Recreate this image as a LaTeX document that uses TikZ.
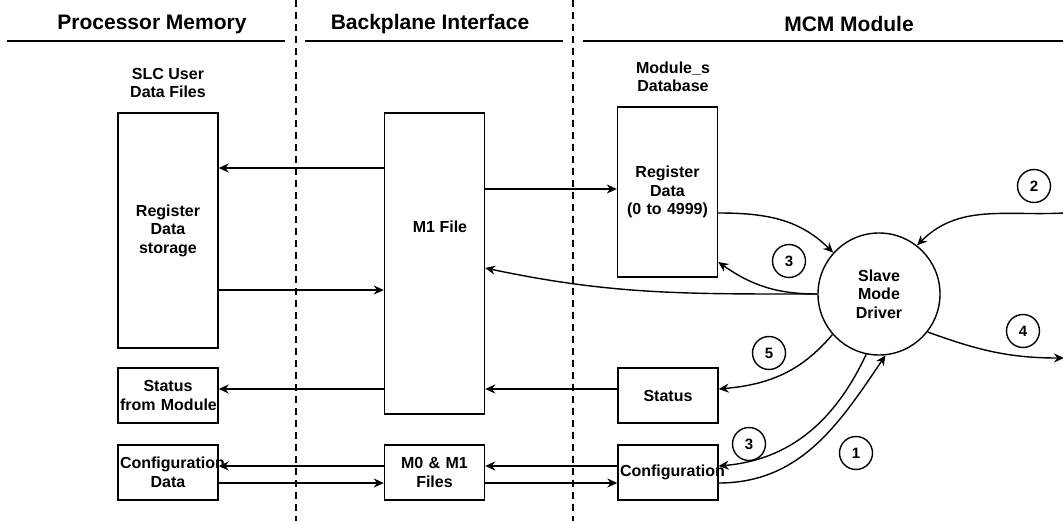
\documentclass[tikz,border=0pt]{standalone}
\usepackage{fontspec}
\setmainfont{Liberation Sans}
\usetikzlibrary{arrows.meta}

\newcommand\lblfont{\fontsize{16}{18.5}\selectfont\bfseries}
\newcommand\headfont{\fontsize{21}{24}\selectfont\bfseries}
\newcommand\numfont{\fontsize{15}{18}\selectfont\bfseries}

\begin{document}
\hyphenpenalty=10000
\begin{tikzpicture}[x=1pt, y=-1pt, line width=1.4pt,
    >={Stealth[length=10pt, width=9pt]},
    box/.style={draw, rectangle, inner sep=2pt, text width=96pt, align=center, font=\lblfont},
    lbl/.style={align=center, font=\lblfont, inner sep=0pt},
    head/.style={font=\headfont, inner sep=0pt},
    num/.style={draw, circle, minimum size=33pt, inner sep=0pt, font=\numfont},
    sep/.style={dash pattern=on 7pt off 5pt, line width=1.5pt},
    rule/.style={line width=1.8pt}]
  \useasboundingbox (0,0) rectangle (1063,521);

  % Intestazioni
  \draw[rule] (7,41) -- (285,41);
  \draw[rule] (305,41) -- (563,41);
  \draw[rule] (583,41) -- (1063,41);
  \node[head] (hpm) at (152,24) {Processor Memory};
  \node[head] (hbi) at (430,24) {Backplane Interface};
  \node[head] (hmcm) at (849,24) {MCM Module};
  \draw[sep] (296,0) -- (296,521);
  \draw[sep] (573,0) -- (573,521);

  % Righe
  \coordinate (y1) at (0,168);
  \coordinate (y2) at (0,189);
  \coordinate (y3) at (0,213);
  \coordinate (y4) at (0,290);
  \coordinate (y5) at (0,389);
  \coordinate (y6) at (0,466);
  \coordinate (y7) at (0,483);
  \coordinate (y8) at (0,268);
  \coordinate (y9) at (0,262);
  \coordinate (in2) at (1064,213);
  \coordinate (out4) at (1064,358);

  % Nodi
  \node[lbl] (slct) at (168,83) {SLC User\\Data Files};
  \node[box, minimum height=235pt] (slc) at (168,230.5) {Register\\Data\\storage};
  \node[box, minimum height=55pt] (stm) at (168,395.5) {Status\\\mbox{from Module}};
  \node[box, minimum height=55pt] (cfd) at (168,472.5) {Configuration\\Data};

  \node[box, minimum height=301pt] (m1) at (434.5,263.5) {};
  \node[lbl] (m1t) at (440,227) {M1 File};
  \node[box, minimum height=55pt] (m01) at (434.5,472.5) {M0 \& M1\\Files};

  \node[lbl] (dbt) at (673,77) {Module\_s\\Database};
  \node[box, minimum height=170pt] (reg) at (667.5,192) {Register\\Data\\(0 to 4999)};
  \node[box, minimum height=55pt] (sta) at (668,395.5) {Status};
  \node[box, minimum height=55pt] (cfg) at (668,472.5) {Configuration};
  \node[draw, circle, minimum size=122pt, inner sep=0pt, align=center, font=\lblfont] (drv) at (879,294) {Slave\\Mode\\Driver};

  \node[num] (n1) at (856,453) {1};
  \node[num] (n2) at (1034,186) {2};
  \node[num] (n3a) at (789,261) {3};
  \node[num] (n3b) at (749,444) {3};
  \node[num] (n4) at (1023,331) {4};
  \node[num] (n5) at (769,353) {5};

  % Archi
  \draw[->] (m1.west |- y1) -- (slc.east |- y1);
  \draw[->] (slc.east |- y4) -- (m1.west |- y4);
  \draw[->] (m1.west |- y5) -- (stm.east |- y5);
  \draw[->] (m01.west |- y6) -- (cfd.east |- y6);
  \draw[->] (cfd.east |- y7) -- (m01.west |- y7);

  \draw[->] (m1.east |- y2) -- (reg.west |- y2);
  \draw[->] (sta.west |- y5) -- (m1.east |- y5);
  \draw[->] (cfg.west |- y6) -- (m01.east |- y6);
  \draw[->] (m01.east |- y7) -- (cfg.west |- y7);

  \draw[->] (reg.east |- y3) to[out=0, in=135] (drv.138);
  \draw[->] (in2) to[out=183, in=45] (drv.52);
  \draw[->] (drv.west) to[out=180, in=-12] (m1.east |- y8);
  \draw[->] (drv.west) to[out=180, in=-35] (reg.east |- y9);
  \draw[->] (drv.221) to[out=230, in=5] (sta.east |- y5);
  \draw[->] (drv.258) to[out=245, in=5] (cfg.east |- y6);
  \draw[->] (cfg.east |- y7) to[out=0, in=236] (drv.276);
  \draw[->] (drv.-38) to[out=-20, in=180] (out4);
\end{tikzpicture}
\end{document}
